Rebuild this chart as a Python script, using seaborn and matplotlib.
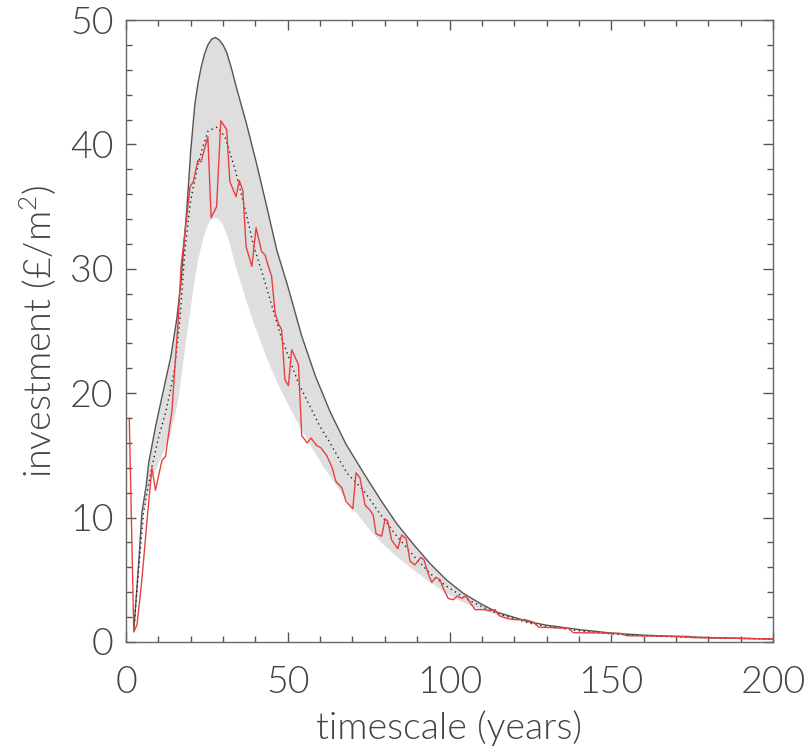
import numpy as np
import matplotlib
matplotlib.use("Agg")
import matplotlib.pyplot as plt
import seaborn as sns
from matplotlib.ticker import MultipleLocator

# upper envelope (grey outline)
upper_x = [2.4, 3.9, 4.9, 6.2, 7.0, 9.1, 11.1, 13.9, 15.7, 17.0, 18.9, 20.0, 21.3, 22.3, 23.3,
           24.3, 25.3, 26.4, 27.6, 28.8, 30.0, 31.1, 32.5, 34.2, 37.3, 40.4, 43.5, 46.6, 50.0,
           54.3, 58.5, 63.1, 68.0, 73.4, 78.5, 83.7, 89.0, 94.0, 99.0, 104.3, 109.5, 114.6,
           119.7, 124.9, 130.0, 140.0, 150.6, 160.0, 171.3, 185.0, 200.0]
upper_y = [0.9, 6.3, 10.4, 12.5, 14.4, 17.3, 19.7, 23.0, 26.0, 29.0, 35.2, 39.5, 43.3, 45.0, 46.3,
           47.3, 48.0, 48.45, 48.6, 48.4, 48.0, 47.4, 46.2, 44.5, 41.6, 38.4, 35.0, 31.5, 28.6,
           24.6, 21.4, 18.5, 15.9, 13.6, 11.5, 9.5, 7.8, 6.3, 5.0, 3.9, 3.1, 2.4,
           2.0, 1.6, 1.35, 1.0, 0.7, 0.55, 0.43, 0.32, 0.24]

# lower envelope (edge of the shaded band)
lower_x = [2.4, 3.9, 5.4, 7.4, 10.5, 13.6, 16.2, 18.2, 19.8, 21.0, 22.2, 23.5, 24.8, 26.0, 27.3,
           28.6, 29.8, 31.1, 32.5, 33.9, 36.5, 38.9, 41.5, 44.5, 47.6, 49.7, 52.5, 55.9, 57.9,
           61.0, 64.1, 68.2, 72.0, 75.4, 78.5, 83.5, 88.8, 94.0, 99.1, 104.0, 109.4, 114.5,
           119.7, 130.0, 140.0, 150.0, 170.0, 185.0, 200.0]
lower_y = [0.9, 5.5, 10.1, 12.8, 14.6, 16.5, 19.5, 23.5, 26.5, 28.7, 30.6, 32.1, 33.2, 33.9, 34.1,
           34.0, 33.6, 32.8, 31.6, 30.2, 28.0, 26.1, 24.2, 22.2, 20.4, 19.3, 17.9, 16.3, 15.4,
           14.1, 12.9, 11.4, 10.1, 9.0, 8.1, 6.9, 5.8, 4.8, 3.9, 3.2, 2.6, 2.2,
           1.8, 1.3, 0.9, 0.6, 0.36, 0.27, 0.2]

# central estimate (dotted)
mid_x = [2.4, 3.9, 5.4, 8.0, 10.1, 12.2, 13.7, 15.1, 16.7, 18.2, 19.8, 20.8, 22.3, 23.5, 25.4,
         28.2, 30.6, 33.7, 36.8, 39.4, 42.4, 47.6, 53.3, 60.0, 63.1, 68.2, 73.4, 78.5, 83.7,
         89.0, 94.0, 99.0, 104.3, 109.5, 114.6, 119.7, 124.9, 130.0, 140.0, 150.0, 160.0,
         175.0, 200.0]
mid_y = [0.9, 5.8, 10.4, 14.1, 16.5, 18.4, 20.2, 22.1, 26.1, 31.5, 35.2, 36.6, 38.4, 39.6, 41.1,
         41.4, 40.6, 38.0, 34.8, 31.9, 29.4, 24.8, 20.8, 17.3, 16.0, 13.6, 12.2, 10.3, 8.5,
         6.9, 5.5, 4.5, 3.6, 2.9, 2.3, 1.9, 1.5, 1.25, 0.9, 0.65, 0.5,
         0.38, 0.23]

# simulated investment (red)
red_x = [1.0, 2.4, 3.4, 4.9, 6.5, 8.0, 9.1, 11.1, 12.2, 13.2, 14.2, 15.1, 16.2, 17.0, 18.2,
         19.8, 20.8, 22.2, 23.2, 23.9, 25.3, 26.3, 28.0, 29.3, 31.1, 32.1, 34.0, 35.0, 36.1,
         37.1, 38.9, 40.2, 41.9, 43.0, 44.0, 45.0, 46.1, 47.1, 48.1, 49.1, 50.2, 51.2, 53.3,
         54.3, 56.0, 57.2, 58.9, 60.3, 62.0, 63.6, 64.9, 66.7, 68.0, 70.1, 71.1, 72.3, 73.9,
         75.4, 76.4, 77.3, 79.0, 80.1, 80.9, 82.1, 84.0, 85.2, 86.6, 87.8, 89.3, 91.1, 92.1,
         93.4, 94.5, 95.8, 97.1, 98.1, 99.6, 101.2, 102.4, 103.8, 105.0, 106.3, 107.9, 109.4,
         111.0, 112.5, 114.1, 115.4, 117.7, 119.7, 121.8, 123.3, 125.9, 127.5, 136.7, 138.3,
         152.7, 154.8, 174.0, 175.0, 200.0]
red_y = [18.0, 0.8, 1.4, 5.0, 9.8, 14.0, 12.2, 14.6, 14.9, 16.8, 18.6, 22.1, 26.1, 30.2, 32.9,
         36.6, 37.0, 38.7, 38.6, 39.3, 40.6, 34.1, 35.0, 41.9, 41.2, 37.0, 35.8, 37.1, 36.3,
         31.8, 30.2, 33.3, 31.4, 31.1, 30.2, 29.4, 26.4, 25.6, 25.1, 21.1, 20.6, 23.5, 22.3,
         16.6, 16.0, 16.4, 15.8, 15.6, 15.0, 14.1, 12.9, 12.4, 11.3, 10.7, 13.6, 13.2, 11.0,
         10.6, 10.2, 8.7, 8.5, 9.9, 9.7, 8.2, 7.5, 8.6, 8.3, 6.5, 6.2, 6.8, 6.6,
         5.5, 4.8, 5.2, 5.0, 4.3, 3.5, 3.4, 3.7, 3.5, 3.7, 3.2, 2.6, 2.6,
         2.6, 2.5, 2.6, 2.1, 1.9, 1.8, 1.8, 1.8, 1.6, 1.2, 1.1, 0.75,
         0.7, 0.5, 0.45, 0.35, 0.25]

sns.set_theme(style="ticks")
plt.rcParams['font.family'] = ['Lato', 'DejaVu Sans']
plt.rcParams['font.weight'] = 300
plt.rcParams['axes.labelweight'] = 300
plt.rcParams['mathtext.default'] = 'regular'
text_col = '#444444'

fig = plt.figure(figsize=(8.11, 7.56), dpi=100)
ax = fig.add_axes([0.1554, 0.1508, 0.7978, 0.8227])

# shaded band between the envelopes
ax.fill(np.r_[upper_x, lower_x[::-1]], np.r_[upper_y, lower_y[::-1]],
        color='#dedede', lw=0, zorder=1)
sns.lineplot(x=upper_x, y=upper_y, ax=ax, color='#555555', lw=1.0,
             estimator=None, sort=False, zorder=2)
sns.lineplot(x=mid_x, y=mid_y, ax=ax, color='#222222', lw=1.0, ls=(0, (1, 2.5)),
             estimator=None, sort=False, zorder=3)
sns.lineplot(x=red_x, y=red_y, ax=ax, color='#e8403f', lw=1.0,
             estimator=None, sort=False, zorder=4)

ax.set_xlim(0, 200)
ax.set_ylim(0, 50)
ax.xaxis.set_major_locator(MultipleLocator(50))
ax.xaxis.set_minor_locator(MultipleLocator(10))
ax.yaxis.set_major_locator(MultipleLocator(10))
ax.yaxis.set_minor_locator(MultipleLocator(2))
ax.tick_params(which='both', direction='in', top=True, right=True,
               color='#555555', width=1.0, labelsize=27, labelcolor=text_col)
ax.tick_params(axis='x', pad=17)
ax.tick_params(axis='y', pad=9)
ax.tick_params(which='major', length=7)
ax.tick_params(which='minor', length=4)
for s in ax.spines.values():
    s.set_color('#666666')
    s.set_linewidth(1.0)

ax.set_xlabel('timescale (years)', fontsize=27, color=text_col, labelpad=8)
ax.set_ylabel('investment (£/m$^2$)', fontsize=27, color=text_col, labelpad=8)

fig.savefig('out.png', dpi=100)
